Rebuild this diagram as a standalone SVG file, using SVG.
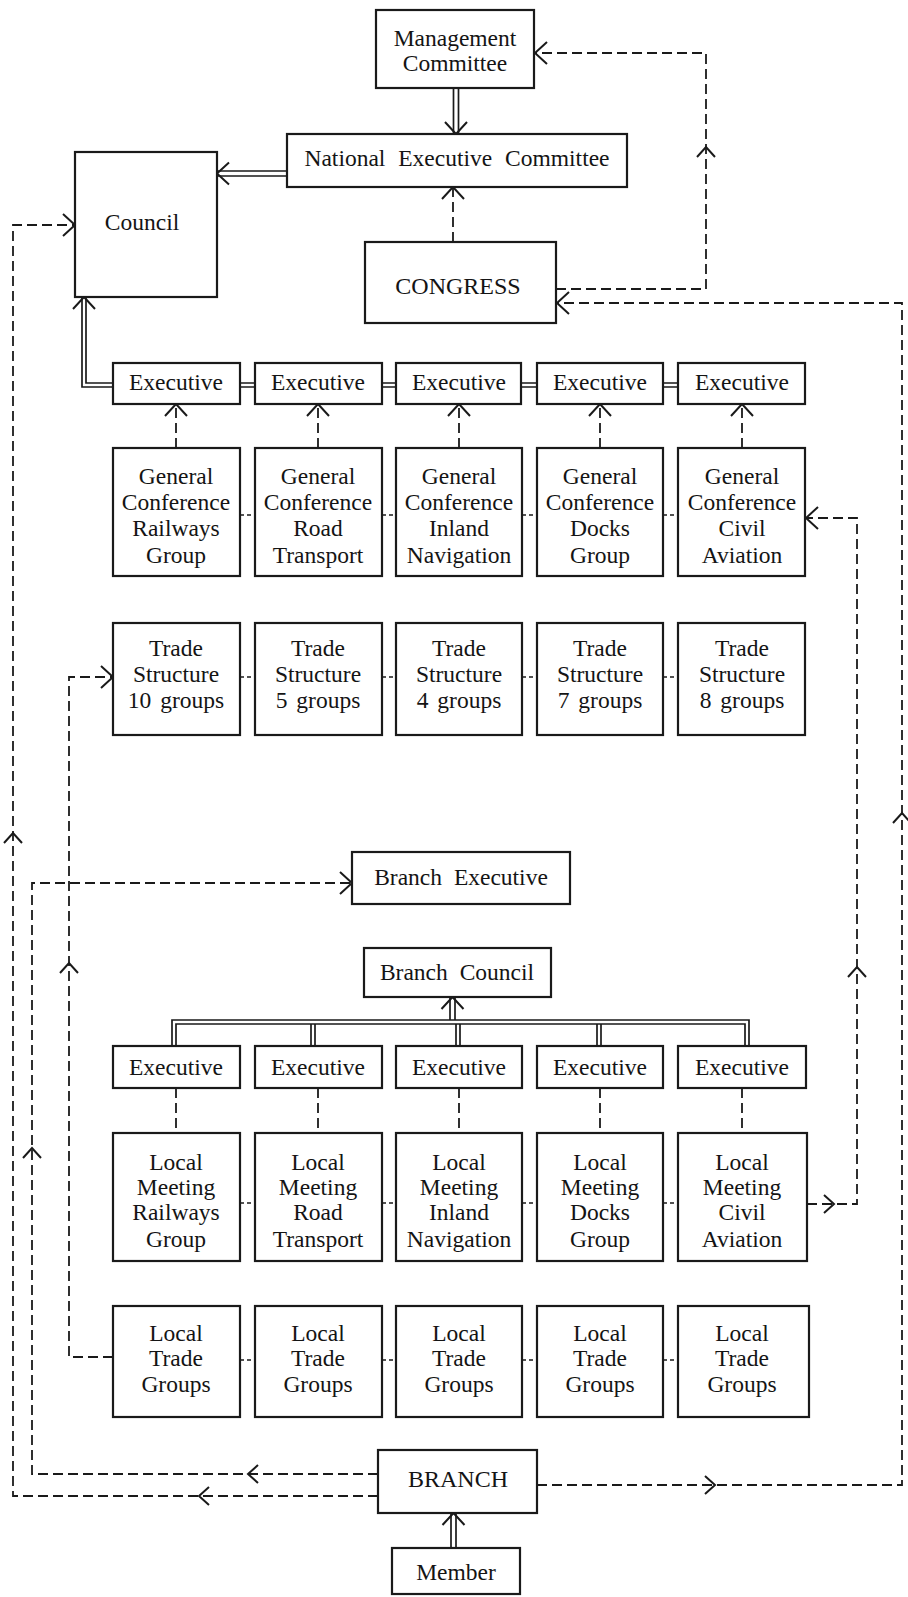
<svg xmlns="http://www.w3.org/2000/svg" width="908" height="1597" viewBox="0 0 908 1597">
<style>
.box{fill:#fff;stroke:#1a1a1a;stroke-width:2.2}
.t{font-family:"Liberation Serif","Times New Roman",serif;font-size:23.5px;fill:#141414;text-anchor:middle;word-spacing:3px}
.d{fill:none;stroke:#1a1a1a;stroke-width:1.8;stroke-dasharray:10 5}
.ds{fill:none;stroke:#1a1a1a;stroke-width:1.6;stroke-dasharray:4 3}
.s{fill:none;stroke:#1a1a1a;stroke-width:1.7}
</style>
<defs>
<path id="ah" d="M-12,-11 L0,0 L-12,11" fill="none" stroke="#1a1a1a" stroke-width="2"/>
<path id="am" d="M-10,-9 L0,0 L-10,9" fill="none" stroke="#1a1a1a" stroke-width="2"/>
</defs>
<rect width="908" height="1597" fill="#fff"/>
<g id="connectors">
<path class="s" d="M453.5,88 V133 M458.5,88 V133"/>
<use href="#ah" transform="translate(456,134) rotate(90)"/>
<path class="s" d="M287,171 H218 M287,176 H218"/>
<use href="#ah" transform="translate(217,173.5) rotate(180)"/>
<path class="s" d="M113,387 H82 V298 M113,383 H86 V298"/>
<use href="#ah" transform="translate(84,297) rotate(-90)"/>
<path class="s" d="M240,383 H255 M240,387 H255 M382,383 H396 M382,387 H396 M521,383 H537 M521,387 H537 M663,383 H678 M663,387 H678"/>
<path class="s" d="M172,1046 V1020 H749 V1046 M176,1046 V1024 H745 V1046 M311,1024 V1046 M315,1024 V1046 M456,1024 V1046 M460,1024 V1046 M597,1024 V1046 M601,1024 V1046 M450,1020 V998 M455,1020 V998"/>
<use href="#ah" transform="translate(452.5,997) rotate(-90)"/>
<path class="s" d="M451,1548 V1514 M456,1548 V1514"/>
<use href="#ah" transform="translate(453.5,1513) rotate(-90)"/>

<path class="d" d="M453,242 V188"/>
<use href="#ah" transform="translate(453,187) rotate(-90)"/>
<path class="d" d="M556,289 H706 V53 H536"/>
<use href="#ah" transform="translate(535,53) rotate(180)"/>
<use href="#am" transform="translate(706,147) rotate(-90)"/>
<path class="d" d="M537,1485 H902 V303 H558"/>
<use href="#ah" transform="translate(557,303) rotate(180)"/>
<use href="#am" transform="translate(715,1485)"/>
<use href="#am" transform="translate(902,813) rotate(-90)"/>
<path class="d" d="M378,1496 H13 V225 H74"/>
<use href="#ah" transform="translate(75,225)"/>
<use href="#am" transform="translate(199,1496) rotate(180)"/>
<use href="#am" transform="translate(13,833) rotate(-90)"/>
<path class="d" d="M378,1474 H32 V883 H351"/>
<use href="#ah" transform="translate(352,883)"/>
<use href="#am" transform="translate(248,1474) rotate(180)"/>
<use href="#am" transform="translate(32,1148) rotate(-90)"/>
<path class="d" d="M113,1357 H69 V677 H112"/>
<use href="#ah" transform="translate(113,677)"/>
<use href="#am" transform="translate(69,963) rotate(-90)"/>
<path class="d" d="M807,1204 H857 V518 H806"/>
<use href="#ah" transform="translate(806,518) rotate(180)"/>
<use href="#am" transform="translate(834,1204)"/>
<use href="#am" transform="translate(857,967) rotate(-90)"/>

<path class="d" d="M176,448 V405 M318,448 V405 M459,448 V405 M600,448 V405 M742,448 V405"/>
<use href="#ah" transform="translate(176,404) rotate(-90)"/>
<use href="#ah" transform="translate(318,404) rotate(-90)"/>
<use href="#ah" transform="translate(459,404) rotate(-90)"/>
<use href="#ah" transform="translate(600,404) rotate(-90)"/>
<use href="#ah" transform="translate(742,404) rotate(-90)"/>
<path class="d" d="M176,1088 V1133 M318,1088 V1133 M459,1088 V1133 M600,1088 V1133 M742,1088 V1133"/>
<path class="ds" d="M240,515 H255 M382,515 H396 M522,515 H537 M663,515 H678"/>
<path class="ds" d="M240,677 H255 M382,677 H396 M522,677 H537 M663,677 H678"/>
<path class="ds" d="M240,1203 H255 M382,1203 H396 M522,1203 H537 M663,1203 H678"/>
<path class="ds" d="M240,1360 H255 M382,1360 H396 M522,1360 H537 M663,1360 H678"/>
</g>

<g id="management"><rect class="box" x="376" y="10" width="158" height="78"/><text class="t" x="455" y="46">Management</text><text class="t" x="455" y="71">Committee</text></g>
<g id="nec"><rect class="box" x="287" y="134" width="340" height="53"/><text class="t" x="457" y="166" style="word-spacing:7px">National Executive Committee</text></g>
<g id="council"><rect class="box" x="75" y="152" width="142" height="145"/><text class="t" x="142" y="230">Council</text></g>
<g id="congress"><rect class="box" x="365" y="242" width="191" height="81"/><text class="t" x="458" y="294" style="font-size:24px">CONGRESS</text></g>

<g id="exec1-rail"><rect class="box" x="113" y="363" width="127" height="41"/><text class="t" x="176" y="390">Executive</text></g>
<g id="exec1-road"><rect class="box" x="255" y="363" width="127" height="41"/><text class="t" x="318" y="390">Executive</text></g>
<g id="exec1-inland"><rect class="box" x="396" y="363" width="125" height="41"/><text class="t" x="459" y="390">Executive</text></g>
<g id="exec1-docks"><rect class="box" x="537" y="363" width="126" height="41"/><text class="t" x="600" y="390">Executive</text></g>
<g id="exec1-civil"><rect class="box" x="678" y="363" width="127" height="41"/><text class="t" x="742" y="390">Executive</text></g>

<g id="gc-rail"><rect class="box" x="113" y="448" width="127" height="128"/><text class="t" x="176" y="484">General</text><text class="t" x="176" y="510">Conference</text><text class="t" x="176" y="536">Railways</text><text class="t" x="176" y="563">Group</text></g>
<g id="gc-road"><rect class="box" x="255" y="448" width="127" height="128"/><text class="t" x="318" y="484">General</text><text class="t" x="318" y="510">Conference</text><text class="t" x="318" y="536">Road</text><text class="t" x="318" y="563">Transport</text></g>
<g id="gc-inland"><rect class="box" x="396" y="448" width="126" height="128"/><text class="t" x="459" y="484">General</text><text class="t" x="459" y="510">Conference</text><text class="t" x="459" y="536">Inland</text><text class="t" x="459" y="563">Navigation</text></g>
<g id="gc-docks"><rect class="box" x="537" y="448" width="126" height="128"/><text class="t" x="600" y="484">General</text><text class="t" x="600" y="510">Conference</text><text class="t" x="600" y="536">Docks</text><text class="t" x="600" y="563">Group</text></g>
<g id="gc-civil"><rect class="box" x="678" y="448" width="127" height="128"/><text class="t" x="742" y="484">General</text><text class="t" x="742" y="510">Conference</text><text class="t" x="742" y="536">Civil</text><text class="t" x="742" y="563">Aviation</text></g>

<g id="ts-rail"><rect class="box" x="113" y="623" width="127" height="112"/><text class="t" x="176" y="656">Trade</text><text class="t" x="176" y="682">Structure</text><text class="t" x="176" y="708">10 groups</text></g>
<g id="ts-road"><rect class="box" x="255" y="623" width="127" height="112"/><text class="t" x="318" y="656">Trade</text><text class="t" x="318" y="682">Structure</text><text class="t" x="318" y="708">5 groups</text></g>
<g id="ts-inland"><rect class="box" x="396" y="623" width="126" height="112"/><text class="t" x="459" y="656">Trade</text><text class="t" x="459" y="682">Structure</text><text class="t" x="459" y="708">4 groups</text></g>
<g id="ts-docks"><rect class="box" x="537" y="623" width="126" height="112"/><text class="t" x="600" y="656">Trade</text><text class="t" x="600" y="682">Structure</text><text class="t" x="600" y="708">7 groups</text></g>
<g id="ts-civil"><rect class="box" x="678" y="623" width="127" height="112"/><text class="t" x="742" y="656">Trade</text><text class="t" x="742" y="682">Structure</text><text class="t" x="742" y="708">8 groups</text></g>

<g id="branch-exec"><rect class="box" x="352" y="852" width="218" height="52"/><text class="t" x="461" y="885" style="word-spacing:6px">Branch Executive</text></g>
<g id="branch-council"><rect class="box" x="364" y="948" width="187" height="49"/><text class="t" x="457" y="980" style="word-spacing:6px">Branch Council</text></g>

<g id="exec2-rail"><rect class="box" x="113" y="1046" width="127" height="42"/><text class="t" x="176" y="1075">Executive</text></g>
<g id="exec2-road"><rect class="box" x="255" y="1046" width="127" height="42"/><text class="t" x="318" y="1075">Executive</text></g>
<g id="exec2-inland"><rect class="box" x="396" y="1046" width="126" height="42"/><text class="t" x="459" y="1075">Executive</text></g>
<g id="exec2-docks"><rect class="box" x="537" y="1046" width="126" height="42"/><text class="t" x="600" y="1075">Executive</text></g>
<g id="exec2-civil"><rect class="box" x="678" y="1046" width="128" height="42"/><text class="t" x="742" y="1075">Executive</text></g>

<g id="lm-rail"><rect class="box" x="113" y="1133" width="127" height="128"/><text class="t" x="176" y="1170">Local</text><text class="t" x="176" y="1195">Meeting</text><text class="t" x="176" y="1220">Railways</text><text class="t" x="176" y="1247">Group</text></g>
<g id="lm-road"><rect class="box" x="255" y="1133" width="127" height="128"/><text class="t" x="318" y="1170">Local</text><text class="t" x="318" y="1195">Meeting</text><text class="t" x="318" y="1220">Road</text><text class="t" x="318" y="1247">Transport</text></g>
<g id="lm-inland"><rect class="box" x="396" y="1133" width="126" height="128"/><text class="t" x="459" y="1170">Local</text><text class="t" x="459" y="1195">Meeting</text><text class="t" x="459" y="1220">Inland</text><text class="t" x="459" y="1247">Navigation</text></g>
<g id="lm-docks"><rect class="box" x="537" y="1133" width="126" height="128"/><text class="t" x="600" y="1170">Local</text><text class="t" x="600" y="1195">Meeting</text><text class="t" x="600" y="1220">Docks</text><text class="t" x="600" y="1247">Group</text></g>
<g id="lm-civil"><rect class="box" x="678" y="1133" width="129" height="128"/><text class="t" x="742" y="1170">Local</text><text class="t" x="742" y="1195">Meeting</text><text class="t" x="742" y="1220">Civil</text><text class="t" x="742" y="1247">Aviation</text></g>

<g id="ltg-rail"><rect class="box" x="113" y="1306" width="127" height="111"/><text class="t" x="176" y="1341">Local</text><text class="t" x="176" y="1366">Trade</text><text class="t" x="176" y="1392">Groups</text></g>
<g id="ltg-road"><rect class="box" x="255" y="1306" width="127" height="111"/><text class="t" x="318" y="1341">Local</text><text class="t" x="318" y="1366">Trade</text><text class="t" x="318" y="1392">Groups</text></g>
<g id="ltg-inland"><rect class="box" x="396" y="1306" width="126" height="111"/><text class="t" x="459" y="1341">Local</text><text class="t" x="459" y="1366">Trade</text><text class="t" x="459" y="1392">Groups</text></g>
<g id="ltg-docks"><rect class="box" x="537" y="1306" width="126" height="111"/><text class="t" x="600" y="1341">Local</text><text class="t" x="600" y="1366">Trade</text><text class="t" x="600" y="1392">Groups</text></g>
<g id="ltg-civil"><rect class="box" x="678" y="1306" width="131" height="111"/><text class="t" x="742" y="1341">Local</text><text class="t" x="742" y="1366">Trade</text><text class="t" x="742" y="1392">Groups</text></g>

<g id="branch"><rect class="box" x="378" y="1450" width="159" height="63"/><text class="t" x="458" y="1487" style="font-size:24px">BRANCH</text></g>
<g id="member"><rect class="box" x="392" y="1548" width="128" height="46"/><text class="t" x="456" y="1580">Member</text></g>
</svg>
